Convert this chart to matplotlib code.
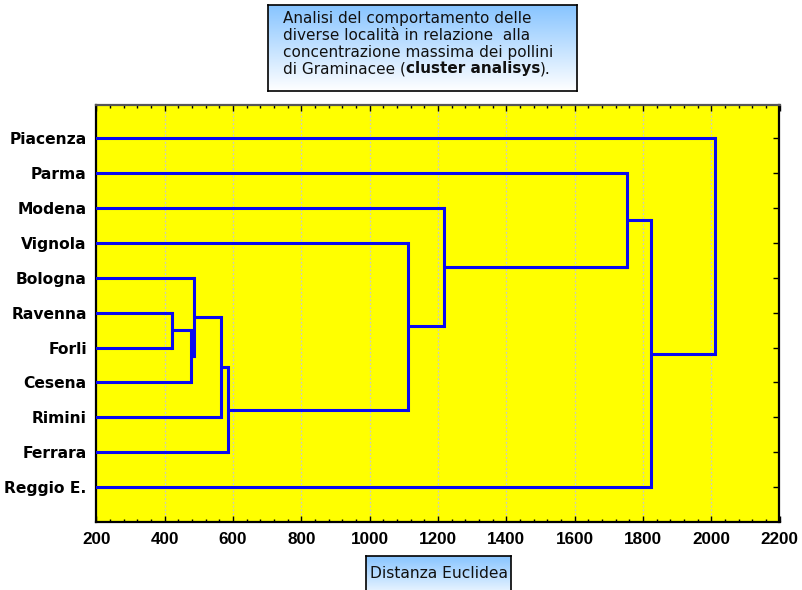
import numpy as np
import matplotlib
matplotlib.use("Agg")
import matplotlib.pyplot as plt
from matplotlib.ticker import MultipleLocator

# leaves, top to bottom
localita = ['Piacenza', 'Parma', 'Modena', 'Vignola', 'Bologna', 'Ravenna',
            'Forli', 'Cesena', 'Rimini', 'Ferrara', 'Reggio E.']

# merges: (left, right, distance); clusters numbered after the 11 leaves
merge_a = [5, 11, 4, 13, 14, 3, 2, 1, 18, 0]
merge_b = [6, 7, 12, 8, 9, 15, 16, 17, 10, 19]
merge_d = [422, 476, 486, 564, 584, 1113, 1217, 1752, 1824, 2012]

x_ticks = [200, 400, 600, 800, 1000, 1200, 1400, 1600, 1800, 2000, 2200]

title_lines = ['Analisi del comportamento delle',
               'diverse località in relazione  alla',
               'concentrazione massima dei pollini']

W, H = 803, 590
fig = plt.figure(figsize=(W / 100, H / 100), dpi=100)
fig.patch.set_facecolor('white')

ax = fig.add_axes([96.5 / W, 1 - 522 / H, 683 / W, 417 / H])
ax.set_facecolor('#FFFF00')

# leaf positions, cluster positions = mean of children
ypos = {i: i + 1.0 for i in range(len(localita))}
xpos = {i: 0.0 for i in range(len(localita))}
blue = '#0A0AF0'
for k, (a, b, d) in enumerate(zip(merge_a, merge_b, merge_d)):
    c = len(localita) + k
    ax.plot([xpos[a], d], [ypos[a], ypos[a]], color=blue, lw=2.2, solid_capstyle='butt', zorder=3)
    ax.plot([xpos[b], d], [ypos[b], ypos[b]], color=blue, lw=2.2, solid_capstyle='butt', zorder=3)
    ax.plot([d, d], [ypos[a], ypos[b]], color=blue, lw=2.2, solid_capstyle='projecting', zorder=3)
    ypos[c] = (ypos[a] + ypos[b]) / 2
    xpos[c] = d

ax.set_xlim(200, 2200)
ax.set_ylim(12.0, 0.045)

ax.set_xticks(x_ticks)
ax.xaxis.set_minor_locator(MultipleLocator(40))
ax.set_xticklabels([str(v) for v in x_ticks], fontfamily='Liberation Sans',
                   fontweight='bold', fontsize=12.3)
ax.set_yticks(range(1, len(localita) + 1))
ax.set_yticklabels(localita, fontfamily='DejaVu Sans', fontweight='bold', fontsize=11.2)

ax.tick_params(axis='x', which='major', direction='in', length=4, width=1,
               top=True, pad=7, colors='black')
ax.tick_params(axis='x', which='minor', direction='in', length=2.5, width=1, top=True)
ax.tick_params(axis='y', direction='in', length=4, width=1, right=True, pad=7)

ax.grid(axis='x', which='major', color='#C8C8C8', linestyle=(0, (1.5, 1.5)), lw=0.9, zorder=1)
for s in ['left', 'bottom', 'right']:
    ax.spines[s].set_linewidth(1.6)
    ax.spines[s].set_color('black')
ax.spines['top'].set_linewidth(1.6)
ax.spines['top'].set_color('#555555')


def gradient_box(x0, y0, x1, y1):
    bx = fig.add_axes([x0 / W, 1 - y1 / H, (x1 - x0) / W, (y1 - y0) / H])
    grad = np.linspace(0, 1, 256).reshape(-1, 1)
    top = np.array([0.53, 0.77, 1.0])
    rgb = top[None, None, :] * (1 - grad[:, :, None]) + np.ones(3)[None, None, :] * grad[:, :, None]
    bx.imshow(rgb, aspect='auto', extent=[0, 1, 0, 1], origin='upper')
    bx.set_xticks([])
    bx.set_yticks([])
    for s in bx.spines.values():
        s.set_color('black')
        s.set_linewidth(1.2)
    return bx


gradient_box(268, 5, 577, 91)
gradient_box(366.5, 556, 511.5, 600)

tfont = dict(fontfamily='DejaVu Sans', fontsize=11, color='#111111', va='center', ha='left')
for i, line in enumerate(title_lines):
    fig.text(283 / W, 1 - (18 + 17 * i) / H, line, **tfont)

# last line with bold part
renderer = fig.canvas.get_renderer()
x = 283 / W
y = 1 - (18 + 17 * 3) / H
for part, wt in [('di Graminacee (', 'normal'), ('cluster analisys', 'bold'), (').', 'normal')]:
    t = fig.text(x, y, part, fontweight=wt, **tfont)
    bb = t.get_window_extent(renderer=renderer)
    x = bb.x1 / W

fig.text(439 / W, 1 - 574 / H, 'Distanza Euclidea', fontfamily='DejaVu Sans',
         fontsize=11.2, color='#111111', ha='center', va='center')

fig.savefig('out.png', dpi=100)
